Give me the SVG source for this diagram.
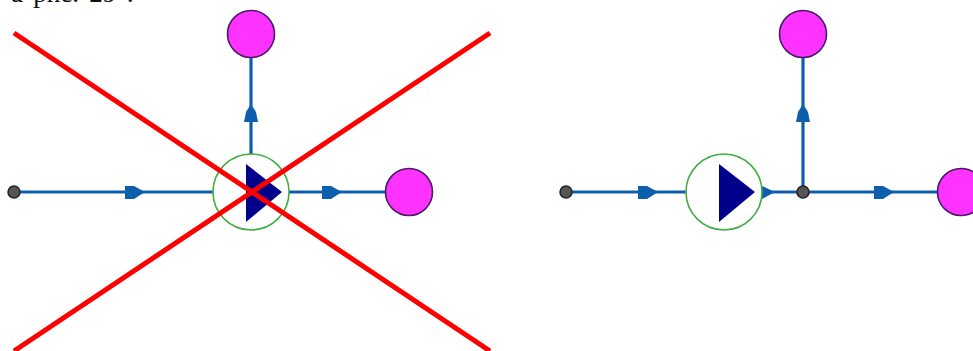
<svg xmlns="http://www.w3.org/2000/svg" width="973" height="351" viewBox="0 0 973 351">
<defs><filter id="soft" x="-5%" y="-5%" width="110%" height="110%"><feGaussianBlur stdDeviation="0.45"/></filter></defs>
<style>
.w{fill:none;stroke:#0f5fad;stroke-width:3.2}
.a{fill:#0f5fad}
.m{fill:#ff33ff;stroke:#4a1a6a;stroke-width:1.6}
.j{fill:#555;stroke:#222;stroke-width:1.5}
.c{fill:#fff;stroke:#3fae3f;stroke-width:1.6}
.t{fill:#00008b}
.x{fill:none;stroke:#f00;stroke-width:5}
.l{font-family:"Liberation Serif",serif;font-size:27px;word-spacing:3.500px;fill:#111}
</style>
<rect width="973" height="351" fill="#fff"/>
<text class="l" x="11" y="2">a phc. 29 :</text>
<g filter="url(#soft)">
<g id="connectors">
<path class="w" d="M14 192H213M289 192H386M251 154V57"/>
<path class="w" d="M566 192H686M762 192H938M803 192V57"/>
<path class="a" d="M125 186h9l11 6-11 7h-9zM322 186h9l11 6-11 7h-9zM638 186h9l11 6-11 7h-9zM874 186h9l11 6-11 7h-9z"/>
<path class="a" d="M244 122l2-10 5-8 5 8 2 10zM796 122l2-10 5-8 5 8 2 10z"/>
<path class="a" d="M762 186l13 6-13 7z"/>
</g>
<g id="source-left"><circle class="j" cx="14" cy="192" r="6"/></g>
<g id="pump-left"><circle class="c" cx="251" cy="192" r="38"/><path class="t" d="M246 164L282 192L246 222z"/></g>
<g id="sink-top-left"><circle class="m" cx="251" cy="34" r="23.500"/></g>
<g id="sink-right-left"><circle class="m" cx="409" cy="192" r="23.500"/></g>
<g id="source-right"><circle class="j" cx="566" cy="192" r="6"/></g>
<g id="pump-right"><circle class="c" cx="724" cy="192" r="38"/><path class="t" d="M719 164L755 192L719 222z"/></g>
<g id="junction-right"><circle class="j" cx="803" cy="192" r="6"/></g>
<g id="sink-top-right"><circle class="m" cx="803" cy="34" r="23.500"/></g>
<g id="sink-right-right"><circle class="m" cx="961" cy="192" r="23.500"/></g>
<g id="cross"><path class="x" d="M14 33L490 351M490 33L14 351"/></g>
</g>
</svg>
